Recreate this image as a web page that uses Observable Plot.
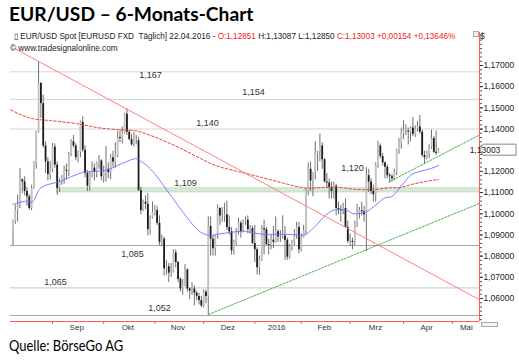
<!DOCTYPE html>
<html><head><meta charset="utf-8">
<script src="https://cdn.jsdelivr.net/npm/d3@7"></script>
<script src="https://cdn.jsdelivr.net/npm/@observablehq/plot@0.6"></script>
<style>
html,body{margin:0;padding:0;background:#fff;}
#wrap{position:relative;width:519px;height:360px;overflow:hidden;background:#fff;}
#chart{position:absolute;left:0;top:0;}
.ov{position:absolute;white-space:pre;line-height:1;}
#title{left:9px;top:2px;font:bold 19.5px Lato;color:#000;transform:scaleX(0.985);transform-origin:left top;}
#hdr1{left:14px;top:31px;font:8.2px "Liberation Sans";color:#222;}
#hdr2{left:10px;top:44px;font:8.2px "Liberation Sans";color:#222;}
#dollar{left:480px;top:31px;font:8.5px "Liberation Sans";color:#222;}
#caption{left:9px;top:335px;font:16px Lato;color:#000;transform:scaleX(0.81);transform-origin:left top;}
.red{color:#ee2222;}
#ico1{left:473px;top:31px;width:4px;height:4px;border:1px solid #aaa;background:#eee;}
#ico2{left:481px;top:322px;width:15px;height:3px;border:1px solid #aaa;background:#f4f4f4;}
</style></head><body>
<div id="wrap">
<div id="chart"></div>
<div class="ov" id="title">EUR/USD – 6-Monats-Chart</div>
<div class="ov" id="hdr1"></div>
<div class="ov" id="hdr2">© www.tradesignalonline.com</div>
<div class="ov" id="dollar">$</div>
<div class="ov" id="ico1"></div>
<div class="ov" id="ico2"></div>
<div class="ov" id="caption">Quelle: BörseGo AG</div>
</div>
<script>
// ---------- data (daily candles, 07.08.2015 – 22.04.2016) ----------
const holidays = ["2015-12-25", "2016-01-01"];
const open = [
1.0925,1.0965,1.1015,1.1040,1.1160,1.1150,1.1105,1.1080,1.1025,1.1120,1.1240,1.1385,1.1615,1.1520,1.1320,1.1245,1.1185,
1.1210,1.1315,1.1230,1.1120,1.1150,1.1170,1.1205,1.1200,1.1280,1.1340,1.1320,1.1265,1.1290,1.1432,1.1300,1.1190,1.1130,1.1185,1.1215,1.1195,1.1240,1.1250,
1.1175,1.1195,1.1210,1.1195,1.1265,1.1245,1.1275,1.1360,1.1355,1.1380,1.1470,1.1385,1.1350,1.1325,1.1345,1.1345,1.1110,1.1015,1.1055,1.1045,1.0925,1.0980,
1.1005,1.1015,1.0955,1.0865,1.0880,1.0740,1.0750,1.0720,1.0725,1.0815,1.0770,1.0690,1.0645,1.0660,1.0735,1.0645,1.0635,1.0645,1.0625,1.0610,1.0590,
1.0565,1.0630,1.0610,1.0940,1.0880,1.0835,1.0895,1.1025,1.0990,1.0990,1.0995,1.0935,1.0915,1.0825,1.0865,1.0915,1.0955,1.0915,1.0965,1.0970,1.0925,1.0930,
1.0860,1.0830,1.0745,1.0780,1.0930,1.0925,1.0855,1.0850,1.0875,1.0865,1.0915,1.0890,1.0890,1.0895,1.0875,1.0795,1.0845,1.0870,1.0895,1.0935,
1.0830,1.0885,1.0920,1.1105,1.1210,1.1155,1.1195,1.1285,1.1290,1.1320,1.1255,1.1150,1.1145,1.1125,1.1105,1.1130,1.1025,1.1020,1.1015,1.1025,1.0935,
1.0870,1.0870,1.0865,1.0955,1.1005,1.1015,1.1010,1.0995,1.1180,1.1150,1.1105,1.1090,1.1230,1.1320,1.1270,1.1240,1.1220,1.1180,1.1175,1.1165,1.1195,1.1300,1.1335,
1.1380,1.1390,1.1390,1.1385,1.1405,1.1375,1.1400,1.1410,1.1385,1.1275,1.1265,1.1285,1.1315,1.1355,1.1290,1.12851];
const high = [
1.0970,1.1040,1.1088,1.1214,1.1165,1.1175,1.1125,1.1090,1.1135,1.1245,1.1390,1.1714,1.1620,1.1560,1.1340,1.1265,1.1245,
1.1332,1.1330,1.1245,1.1165,1.1180,1.1225,1.1235,1.1290,1.1350,1.1370,1.1330,1.1295,1.1437,1.1458,1.1320,1.1205,1.1200,1.1245,1.1235,1.1245,1.1275,1.1255,
1.1225,1.1317,1.1240,1.1280,1.1295,1.1335,1.1387,1.1395,1.1410,1.1475,1.1495,1.1395,1.1375,1.1385,1.1370,1.1360,1.1125,1.1065,1.1085,1.1095,1.0990,1.1055,
1.1040,1.1035,1.0990,1.0900,1.0890,1.0780,1.0765,1.0765,1.0830,1.0830,1.0775,1.0700,1.0690,1.0760,1.0740,1.0650,1.0675,1.0660,1.0635,1.0625,1.0610,
1.0640,1.0640,1.0985,1.0985,1.0895,1.0900,1.1042,1.1030,1.1030,1.1050,1.1060,1.0990,1.0935,1.0875,1.0930,1.0980,1.0965,1.0970,1.0985,1.0990,1.0945,1.0940,
1.0945,1.0840,1.0800,1.0945,1.0970,1.0935,1.0880,1.0900,1.0940,1.0985,1.0925,1.0920,1.0990,1.0940,1.0885,1.0855,1.0875,1.0925,1.0960,1.0960,
1.0905,1.0945,1.1115,1.1240,1.1245,1.1195,1.1340,1.1295,1.1376,1.1335,1.1260,1.1190,1.1165,1.1150,1.1150,1.1140,1.1055,1.1040,1.1050,1.1070,1.0965,
1.0905,1.0885,1.0965,1.1045,1.1030,1.1055,1.1035,1.1218,1.1210,1.1165,1.1135,1.1240,1.1342,1.1330,1.1285,1.1245,1.1230,1.1190,1.1185,1.1210,1.1305,1.1355,1.1405,
1.1440,1.1420,1.1405,1.1410,1.1455,1.1415,1.1435,1.1464,1.1395,1.1295,1.1295,1.1325,1.1395,1.1365,1.1390,1.13087];
const low = [
1.0850,1.0950,1.0960,1.1025,1.1095,1.1085,1.1035,1.1017,1.1015,1.1115,1.1210,1.1380,1.1450,1.1310,1.1190,1.1155,1.1160,
1.1195,1.1215,1.1087,1.1100,1.1135,1.1140,1.1160,1.1175,1.1270,1.1310,1.1250,1.1240,1.1265,1.1290,1.1170,1.1105,1.1105,1.1170,1.1155,1.1170,1.1210,1.1155,
1.1145,1.1150,1.1165,1.1160,1.1220,1.1215,1.1265,1.1335,1.1330,1.1375,1.1370,1.1345,1.1320,1.1315,1.1325,1.1105,1.0995,1.1010,1.1020,1.0895,1.0900,1.0975,
1.0990,1.0945,1.0850,1.0845,1.0705,1.0710,1.0675,1.0700,1.0720,1.0745,1.0675,1.0630,1.0615,1.0655,1.0630,1.0595,1.0615,1.0565,1.0590,1.0570,1.0557,
1.0555,1.0575,1.0524,1.0800,1.0800,1.0800,1.0880,1.0945,1.0960,1.0960,1.0920,1.0900,1.0805,1.0805,1.0850,1.0900,1.0885,1.0910,1.0945,1.0905,1.0905,1.0855,
1.0770,1.0711,1.0710,1.0775,1.0805,1.0850,1.0805,1.0830,1.0835,1.0860,1.0865,1.0865,1.0880,1.0780,1.0780,1.0785,1.0825,1.0850,1.0880,1.0810,
1.0820,1.0885,1.0900,1.1085,1.1105,1.1080,1.1160,1.1200,1.1245,1.1210,1.1145,1.1120,1.1070,1.1070,1.1070,1.0990,1.0995,1.0960,1.0995,1.0935,1.0860,
1.0845,1.0830,1.0850,1.0935,1.0975,1.0990,1.0960,1.0822,1.1100,1.1090,1.1055,1.1055,1.1215,1.1260,1.1225,1.1165,1.1165,1.1144,1.1150,1.1155,1.1180,1.1280,1.1305,
1.1350,1.1370,1.1325,1.1340,1.1365,1.1360,1.1385,1.1375,1.1265,1.1235,1.1255,1.1260,1.1305,1.1285,1.1275,1.12850];
const close = [
1.0965,1.1015,1.1040,1.1160,1.1150,1.1105,1.1080,1.1025,1.1120,1.1240,1.1385,1.1615,1.1520,1.1320,1.1245,1.1185,1.1210,
1.1315,1.1230,1.1120,1.1150,1.1170,1.1205,1.1200,1.1280,1.1340,1.1320,1.1265,1.1290,1.1432,1.1300,1.1190,1.1130,1.1185,1.1215,1.1195,1.1240,1.1250,1.1175,
1.1195,1.1210,1.1195,1.1265,1.1245,1.1275,1.1360,1.1355,1.1380,1.1470,1.1385,1.1350,1.1325,1.1345,1.1345,1.1110,1.1015,1.1055,1.1045,1.0925,1.0980,1.1005,
1.1015,1.0955,1.0865,1.0880,1.0740,1.0750,1.0720,1.0725,1.0815,1.0770,1.0690,1.0645,1.0660,1.0735,1.0645,1.0635,1.0645,1.0625,1.0610,1.0590,1.0565,
1.0630,1.0610,1.0940,1.0880,1.0835,1.0895,1.1025,1.0990,1.0990,1.0995,1.0935,1.0915,1.0825,1.0865,1.0915,1.0955,1.0915,1.0965,1.0970,1.0925,1.0930,1.0860,
1.0830,1.0745,1.0780,1.0930,1.0925,1.0855,1.0850,1.0875,1.0865,1.0915,1.0890,1.0890,1.0895,1.0875,1.0795,1.0845,1.0870,1.0895,1.0935,1.0830,
1.0885,1.0920,1.1105,1.1210,1.1155,1.1195,1.1285,1.1290,1.1320,1.1255,1.1150,1.1145,1.1125,1.1105,1.1130,1.1025,1.1020,1.1015,1.1025,1.0935,1.0870,
1.0870,1.0865,1.0955,1.1005,1.1015,1.1010,1.0995,1.1180,1.1150,1.1105,1.1090,1.1230,1.1320,1.1270,1.1240,1.1220,1.1180,1.1175,1.1165,1.1195,1.1300,1.1335,1.1380,
1.1390,1.1390,1.1385,1.1405,1.1375,1.1400,1.1410,1.1385,1.1275,1.1265,1.1285,1.1315,1.1355,1.1290,1.12849,1.13003];

// moving averages: [candle index, price]
const maBlue = [[0,1.1044],[6.7,1.1060],[8.1,1.1055],[11.7,1.1120],[16.7,1.1143],[19.6,1.1150],[24.6,1.1173],[31.1,1.1197],[35.4,1.1200],[39.7,1.1205],[48.4,1.1244],[52.7,1.1260],[55,1.1248],[59.1,1.1212],[66.3,1.1110],[73.5,1.1002],[80.6,1.0914],[84.9,1.0898],[89.2,1.0906],[95,1.0914],[99.3,1.0918],[103.6,1.0909],[109.3,1.0903],[118,1.0903],[123.7,1.0898],[125.9,1.0903],[130.3,1.0945],[134.4,1.0992],[138.7,1.1019],[143,1.1019],[146.6,1.1000],[151.6,1.1008],[155.9,1.1040],[160.2,1.1076],[162.4,1.1079],[166.7,1.1126],[170.9,1.1181],[175.3,1.1201],[179.6,1.1213],[183.1,1.1228]];
const maRed = [[-1,1.1490],[8.9,1.1448],[16.1,1.1440],[27.6,1.1425],[37.6,1.1405],[44.8,1.1397],[52,1.1393],[59.1,1.1370],[66.3,1.1338],[73.5,1.1301],[80.6,1.1261],[85,1.1237],[95,1.1204],[102.2,1.1185],[109.3,1.1165],[116.5,1.1144],[123.7,1.1125],[127.2,1.1121],[135.8,1.1125],[139.4,1.1125],[147.3,1.1115],[154.5,1.1113],[162.4,1.1123],[165.2,1.1123],[172.4,1.1141],[178.2,1.1154],[183.1,1.1162]];
// trend lines [candle index, price]
const trendRed = [[0.6,1.1781],[200.65,1.0594]];
const trendGreenLong = [[84,1.0524],[200.65,1.1049]];
const trendGreenShort = [[162,1.1152],[200.65,1.1372]];
// support zone
const zone = {start: 19, lo: 1.1101, hi: 1.1120};
// horizontal levels
const levelsLight = [1.167, 1.154, 1.140];
const levelsDark = [1.085, 1.052];
const levelsMid = [1.065];
// level labels: text, candle index, price where placed
const labelText = ["1,167","1,154","1,140","1,120","1,109","1,085","1,065","1,052"];
const labelIdx = [59.1, 103.4, 83.7, 146, 74.2, 51.4, 18.3, 63];
const labelPrice = [1.1653, 1.1573, 1.1429, 1.1214, 1.1143, 1.0808, 1.0676, 1.0553];
// axis (1,13000 is hidden behind the last-price box)
const yTicks = [1.06,1.07,1.08,1.09,1.10,1.11,1.12,1.14,1.15,1.16,1.17];
const monthLabels = ["Sep","Okt","Nov","Dez","2016","Feb","Mrz","Apr","Mai"];
const changeAbs = "+0,00154", changePct = "+0,13646%";

// ---------- build ----------
const iso = d3.utcFormat("%Y-%m-%d");
const days = d3.utcDay.range(new Date(Date.UTC(2015,7,7)), new Date(Date.UTC(2016,5,1)))
  .filter(d => d.getUTCDay() % 6 !== 0 && !holidays.includes(iso(d)));
const candles = close.map((c, i) => ({i, date: days[i], o: open[i], h: high[i], l: low[i], c}));
const last = candles.length - 1;

const monthStarts = [];
for (let i = 1; i < days.length; i++) if (days[i].getUTCMonth() !== days[i-1].getUTCMonth()) monthStarts.push(i);
const ticksX = monthStarts.slice(0, monthLabels.length);
const monthLab = ticksX.map((t, k) => ({x: k < ticksX.length - 1 ? (t + ticksX[k+1]) / 2 - 0.6 : t + 6, t: monthLabels[k]}));

const xMax = 200.65, xMin = -1.075, yMin = 1.049142, yMax = 1.185579;
const fmt5 = v => v.toFixed(5).replace(".", ",");
const pts = a => a.map(([i, p]) => ({i, p}));
const minor = d3.range(1.05, 1.186, 0.002);

const plot = Plot.plot({
  width: 519, height: 360,
  marginTop: 32, marginBottom: 39, marginLeft: 10, marginRight: 40,
  style: {fontFamily: "Liberation Sans", fontSize: "8.5px", color: "#222", background: "#fff"},
  x: {type: "linear", domain: [xMin, xMax]},
  y: {domain: [yMin, yMax]},
  marks: [
    Plot.rect([zone], {x1: "start", x2: () => xMax, y1: "lo", y2: "hi", fill: "#d7ead7", stroke: "#c0dcc0"}),
    Plot.ruleY(levelsLight, {stroke: "#d4d4d4"}),
    Plot.ruleY(levelsMid, {stroke: "#c4c4c4"}),
    Plot.ruleY(levelsDark, {stroke: "#a4a4a4"}),
    Plot.ruleX(candles, {x: "i", y1: "l", y2: "h", stroke: "#707070", strokeWidth: 1}),
    Plot.ruleX(candles.filter(d => d.c >= d.o), {x: "i", y1: "o", y2: "c", stroke: "#c2c2c2", strokeWidth: 1.8}),
    Plot.ruleX(candles.filter(d => d.c < d.o), {x: "i", y1: "o", y2: "c", stroke: "#1c1c1c", strokeWidth: 1.8}),
    Plot.line(pts(maBlue), {x: "i", y: "p", stroke: "#7070ff", strokeWidth: 0.9, curve: "monotone-x"}),
    Plot.line(pts(maRed), {x: "i", y: "p", stroke: "#f03a3a", strokeWidth: 1, strokeDasharray: "2.5,2", curve: "monotone-x"}),
    Plot.line(pts(trendRed), {x: "i", y: "p", stroke: "#ff8080", strokeWidth: 1}),
    Plot.line(pts(trendGreenLong), {x: "i", y: "p", stroke: "#4cb04c", strokeWidth: 1, strokeDasharray: "2,1.5"}),
    Plot.line(pts(trendGreenShort), {x: "i", y: "p", stroke: "#4cb04c", strokeWidth: 1, strokeDasharray: "2,1.5"}),
    Plot.text(labelText, {x: (d, k) => labelIdx[k], y: (d, k) => labelPrice[k], text: d => d, fontSize: 9, fill: "#333"}),
    Plot.axisY({anchor: "right", ticks: minor, tickSize: 2, tickFormat: () => "", stroke: "#555"}),
    Plot.axisY({anchor: "right", ticks: yTicks, tickSize: 3, tickPadding: 1, tickFormat: fmt5, stroke: "#333", fill: "#222"}),
    Plot.axisX({ticks: ticksX, tickSize: 3, tickFormat: () => "", stroke: "#888"}),
    Plot.text(monthLab, {x: "x", text: "t", frameAnchor: "bottom", dy: 8, fontSize: 8, fill: "#333"}),
    Plot.ruleX([xMax], {stroke: "#ff5a5a"}),
    Plot.ruleY([yMin], {stroke: "#ff5a5a"})
  ]
});
document.getElementById("chart").appendChild(plot);

// last-price box on the right axis
const ys = plot.scale("y"), xs = plot.scale("x");
const yv = ys.apply(close[last]), x0 = xs.apply(xMax);
const svg = d3.select(plot);
svg.append("path")
  .attr("d", `M${x0+1},${yv}L${x0+4},${yv-5.5}H${x0+37}V${yv+5.5}H${x0+4}Z`)
  .attr("fill", "#fff").attr("stroke", "#888");
svg.append("text").attr("x", x0 + 6).attr("y", yv).attr("dy", "0.35em")
  .attr("font-size", 8.5).attr("fill", "#222").text(fmt5(close[last]));

// header line built from the last candle
const dfmt = d3.utcFormat("%d.%m.%Y");
document.getElementById("hdr1").innerHTML =
  `▯ EUR/USD Spot [EURUSD FXD  Täglich] ${dfmt(days[last])} - <span class="red">O:${fmt5(open[last])}</span> H:${fmt5(high[last])} L:${fmt5(low[last])} <span class="red">C:${fmt5(close[last])} ${changeAbs} ${changePct}</span>`;
</script>
</body></html>
